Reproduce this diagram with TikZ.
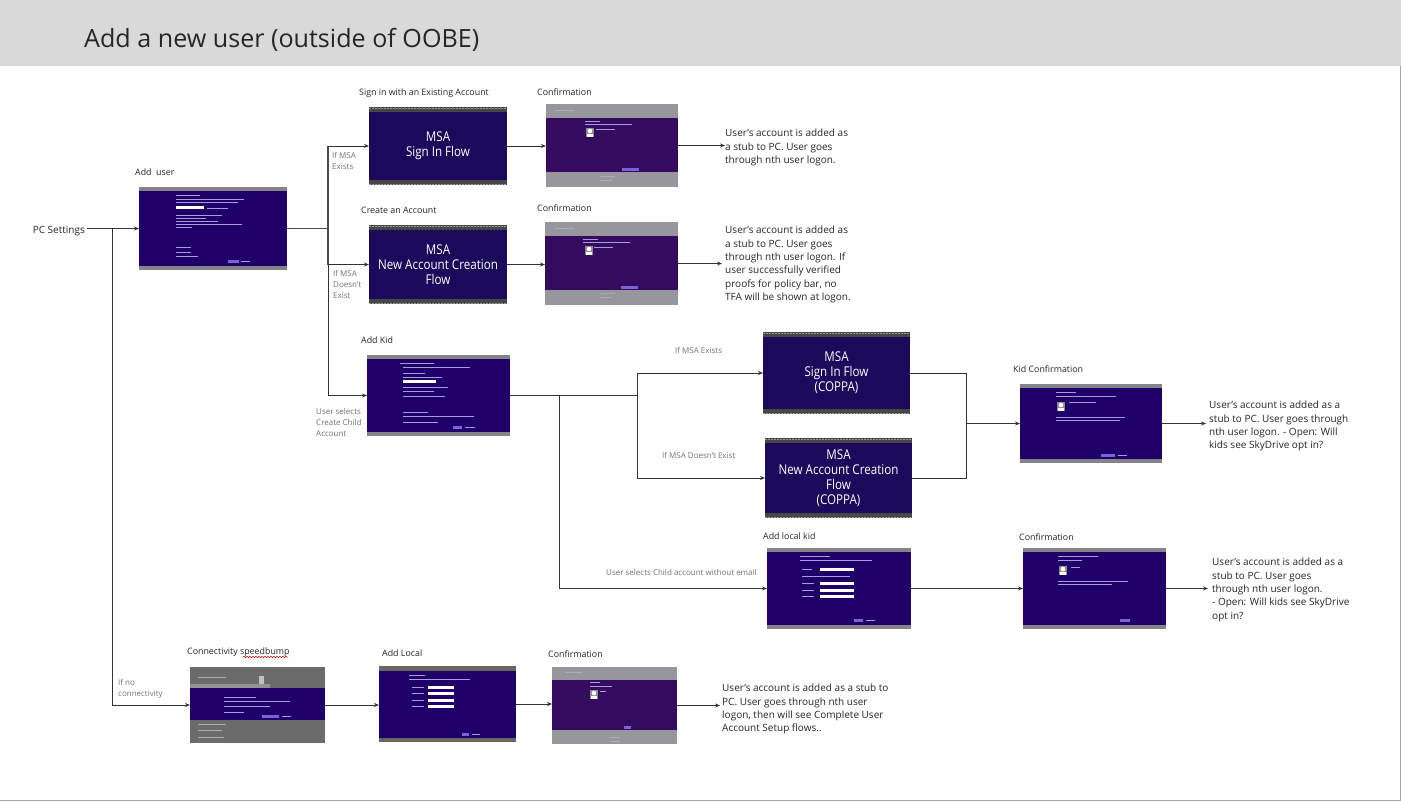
\documentclass[tikz,border=0pt]{standalone}
\usepackage{fontspec}
\setmainfont{Open Sans}
\newfontfamily\msafont{Open Sans}[FakeStretch=0.86]
\usetikzlibrary{arrows.meta,decorations.pathmorphing}
\definecolor{navy}{HTML}{1F0068}
\definecolor{msanavy}{HTML}{1B0A5C}
\definecolor{plum}{HTML}{340B5E}
\definecolor{barg}{HTML}{85838A}
\definecolor{lav}{HTML}{A99BE0}
\definecolor{btn}{HTML}{7A62D8}
\newcommand\mkbox[7]{%
  \pgfmathsetmacro\bw{#4-#2}\pgfmathsetmacro\bh{#5-#3}%
  \pgfmathsetmacro\bx{(#2+#4)/2}\pgfmathsetmacro\by{(#3+#5)/2}%
  \node[#6,minimum width=\bw pt,minimum height=\bh pt] (#1) at (\bx,\by) {#7};}
\newcommand\tl[3]{\draw[lav,line width=.45pt] (#1,#3) -- (#2,#3);}
\newcommand\tg[3]{\draw[black!32,line width=.6pt] (#1,#3) -- (#2,#3);}
\newcommand\wf[3]{\fill[white] (#1,#3-1.5) rectangle (#2,#3+1.5);}
\newcommand\bt[3]{\fill[btn] (#1,#3-1.5) rectangle (#2,#3+1.5);}
\newcommand\av[2]{\fill[black!45] (#1,#2) rectangle (#1+8,#2+9);\fill[white] (#1+4,#2+3) circle (2.3pt);\fill[white] (#1+.8,#2+9) rectangle (#1+7.2,#2+5.6);}
\tikzset{
  boxbase/.style={inner sep=0pt,outer sep=0pt,draw=none},
  screen/.style={boxbase,fill=navy,
    path picture={\fill[barg] (path picture bounding box.north west) rectangle ([yshift=-4pt]path picture bounding box.north east);
                  \fill[barg] (path picture bounding box.south west) rectangle ([yshift=4pt]path picture bounding box.south east);}},
  grayscreen/.style={boxbase,fill=barg!85!white},
  darkscreen/.style={boxbase,fill=black!58},
  msa/.style={boxbase,fill=msanavy,text=white,align=center,font=\msafont\fontsize{13.5}{15}\selectfont,
    path picture={\fill[black!72] (path picture bounding box.north west) rectangle ([yshift=-5pt]path picture bounding box.north east);
                  \fill[black!72] (path picture bounding box.south west) rectangle ([yshift=5pt]path picture bounding box.south east);
                  \draw[black!40,line width=1pt,dash pattern=on 1.5pt off 1.5pt] ([yshift=-1pt]path picture bounding box.north west) -- ([yshift=-1pt]path picture bounding box.north east);
                  \draw[black!40,line width=1pt,dash pattern=on 1.5pt off 1.5pt] ([yshift=1pt]path picture bounding box.south west) -- ([yshift=1pt]path picture bounding box.south east);}},
  captext/.style={inner sep=0pt,anchor=west,yshift=-1pt,font=\fontsize{8.85}{11}\selectfont,text=black!85},
  notetext/.style={inner sep=0pt,anchor=north west,align=left,font=\fontsize{8}{11}\selectfont,text=black!55},
  restext/.style={inner sep=0pt,anchor=north west,align=left,yshift=-2pt,font=\fontsize{10}{13.3}\selectfont,text=black!85},
  linkline/.style={draw=black!80,line width=.8pt},
  arrline/.style={linkline,-{Stealth[length=5pt,width=4pt]}},
  trunkline/.style={draw=black!70,line width=1.3pt},
}
\begin{document}
\begin{tikzpicture}[x=1pt,y=-1pt]
\useasboundingbox (0,0) rectangle (1401,801);
\fill[white] (0,0) rectangle (1401,801);
\fill[black!15] (0,0) rectangle (1401,66);
\draw[black!35,line width=.8pt] (1400.5,66) -- (1400.5,800.5) -- (0,800.5);
\node[inner sep=0pt,anchor=west,font=\fontsize{25.1}{28}\selectfont,text=black!85] (title) at (84,40) {Add a new user (outside of OOBE)};

% boxes
\mkbox{au}{139}{187}{287}{270}{screen}{}
\mkbox{ms}{369}{107}{507}{185}{msa}{\raisebox{-2pt}{MSA}\\\raisebox{-2pt}{Sign In Flow}}
\mkbox{cf}{546}{104}{678}{187}{grayscreen}{}
\mkbox{mn}{369}{225}{507}{304}{msa}{MSA\\New Account Creation\\Flow}
\mkbox{cg}{545}{222}{678}{305}{grayscreen}{}
\mkbox{ak}{367}{355}{510}{436}{screen}{}
\mkbox{ca}{763}{332}{910}{414}{msa}{\raisebox{-1pt}{MSA}\\\raisebox{-1pt}{Sign In Flow}\\\raisebox{-1pt}{(COPPA)}}
\mkbox{cb}{765}{438}{912}{518}{msa}{\raisebox{-1.5pt}{MSA}\\\raisebox{-1.5pt}{New Account Creation}\\\raisebox{-1.5pt}{Flow}\\\raisebox{-1.5pt}{(COPPA)}}
\mkbox{kc}{1020}{384}{1162}{463}{screen}{}
\mkbox{lk}{767}{548}{911}{629}{screen}{}
\mkbox{lc}{1023}{548}{1166}{629}{screen}{}
\mkbox{sb}{190}{667}{325}{743}{darkscreen}{}
\mkbox{al}{379}{666}{516}{742}{screen}{}
\mkbox{ch}{552}{667}{677}{744}{grayscreen}{}

% screenshot details
\tl{176}{200}{195}\tl{176}{244}{199}\tl{176}{238}{202}\wf{176}{204}{207}\tl{207}{228}{208}
\tl{176}{222}{215}\tl{176}{206}{218}\tl{176}{218}{221}\tl{176}{242}{224}\tl{176}{192}{227}
\tl{176}{191}{247}\tl{176}{191}{252}\tl{176}{198}{256}\bt{228}{239}{261}\tl{241}{250}{261}

\fill[plum] (546,118) rectangle (678,172);
\tl{585}{600}{121}\tl{585}{632}{124}\av{586}{128}\tl{596}{615}{129}\bt{622}{639}{169}\tg{600}{615}{176}\tg{600}{612}{180}\tg{555}{574}{110}
\fill[plum] (545,236) rectangle (678,290);
\tl{583}{598}{239}\tl{583}{630}{242}\av{585}{246}\tl{594}{613}{247}\bt{621}{638}{287}\tg{600}{615}{293}\tg{600}{612}{297}\tg{555}{574}{228}

\tl{400}{434}{363}\tl{403}{470}{367}\tl{403}{425}{373}\tl{403}{442}{377}\wf{403}{436}{381}\tl{403}{448}{387}\tl{403}{434}{391}\tl{403}{445}{396}
\tl{403}{428}{412}\tl{403}{474}{416}\tl{403}{438}{422}\bt{453}{462}{427}\tl{465}{475}{427}

\tl{1056}{1076}{392}\tl{1056}{1116}{396}\av{1057}{402}\tl{1069}{1096}{402}\tl{1056}{1125}{417}\tl{1056}{1120}{420}\bt{1101}{1115}{455}\tl{1118}{1127}{455}

\tl{800}{830}{556}\tl{800}{872}{560}\wf{820}{854}{569}\tl{802}{812}{569}\tl{802}{850}{576}\wf{820}{854}{583}\wf{820}{854}{590}\wf{820}{854}{596}\tl{802}{814}{583}\tl{802}{814}{590}\tl{802}{814}{596}\bt{854}{863}{620}\tl{866}{875}{620}

\tl{1058}{1098}{556}\tl{1058}{1082}{560}\av{1059}{566}\tl{1071}{1080}{567}\tl{1058}{1128}{581}\tl{1058}{1112}{584}\bt{1120}{1130}{620}

\fill[navy] (190,688) rectangle (325,720);
\fill[black!42] (190,684) rectangle (270,688);
\tl{224}{256}{697}\tl{224}{290}{701}\tl{224}{270}{706}\tl{224}{244}{712}\bt{262}{279}{716}\tl{282}{291}{716}
\tg{198}{226}{677}\tg{198}{226}{724}\tg{198}{222}{730}\tg{198}{224}{737}
\fill[black!25] (259,676) rectangle (264,684);

\fill[black!60] (379,666) rectangle (516,671);
\fill[black!60] (379,738) rectangle (516,742);
\tl{409}{425}{675}\tl{409}{470}{679}\wf{428}{454}{687}\wf{428}{454}{693}\wf{428}{454}{700}\wf{428}{454}{706}\tl{412}{424}{687}\tl{412}{424}{693}\tl{412}{424}{700}\tl{412}{424}{706}\bt{462}{469}{734}\tl{472}{480}{734}

\fill[plum] (552,680) rectangle (677,730);
\tl{590}{600}{682}\tl{590}{612}{686}\av{590}{690}\tl{600}{606}{691}\bt{624}{631}{727}\tg{610}{620}{737}\tg{610}{620}{741}\tg{565}{582}{672}

% captions
\node[captext] (t1) at (359,92) {Sign in with an Existing Account};
\node[captext] (t2) at (537,91) {Confirmation};
\node[captext] (t3) at (135,171) {Add\ \ user};
\node[captext] (t4) at (361,209) {Create an Account};
\node[captext] (t5) at (537,207) {Confirmation};
\node[captext] (t6) at (361,339) {Add Kid};
\node[captext] (t7) at (1013,368) {Kid Confirmation};
\node[captext] (t8) at (763,535) {Add local kid};
\node[captext] (t9) at (1019,536) {Confirmation};
\node[captext] (t10) at (187,651) {Connectivity speedbump};
\node[captext] (t11) at (382,652) {Add Local};
\node[captext] (t12) at (548,653) {Confirmation};
\coordinate (wa) at (243,657);
\coordinate (wb) at (288,657);
\draw[red!75!black,line width=.5pt,decorate,decoration={snake,amplitude=.7pt,segment length=3pt}] (wa) -- (wb);
\node[inner sep=0pt,anchor=east,font=\fontsize{10}{12}\selectfont,text=black!85] (pc) at (85,231) {PC Settings};

% small notes
\node[notetext] (n1) at (332,152.5) {If MSA\\Exists};
\node[notetext] (n2) at (333,270.5) {If MSA\\Doesn't\\Exist};
\node[notetext] (n3) at (316,408) {User selects\\Create Child\\Account};
\node[notetext] (n4) at (675,347.5) {If MSA Exists};
\node[notetext] (n5) at (662,452) {If MSA Doesn't Exist};
\node[notetext] (n6) at (606,569) {User selects Child account without email};
\node[notetext] (n7) at (118,679) {If no\\connectivity};

% results
\node[restext] (r1) at (725,127) {User's account is added as\\a stub to PC. User goes\\through nth user logon.};
\node[restext] (r2) at (725,224) {User's account is added as\\a stub to PC. User goes\\through nth user logon. If\\user successfully verified\\proofs for policy bar, no\\TFA will be shown at logon.};
\node[restext] (r3) at (1209,399) {User's account is added as a\\stub to PC. User goes through\\nth user logon. - Open: Will\\kids see SkyDrive opt in?};
\node[restext] (r4) at (1212,556) {User's account is added as a\\stub to PC. User goes\\through nth user logon.\\- Open: Will kids see SkyDrive\\opt in?};
\node[restext] (r5) at (722,682) {User's account is added as a stub to\\PC. User goes through nth user\\logon, then will see Complete User\\Account Setup flows..};

% junctions
\coordinate (jpc) at (112,228.5);
\coordinate (jno) at (112,705);
\coordinate (jau) at (328,228.5);
\coordinate (jms) at (328,146);
\coordinate (jmn) at (328,264.5);
\coordinate (jak) at (328,395.5);
\coordinate (jk) at (637,395.5);
\coordinate (jl) at (559,395.5);
\coordinate (jca) at (637,373);
\coordinate (jcb) at (637,478);
\coordinate (jll) at (559,588.5);
\coordinate (ja) at (966,373);
\coordinate (jb) at (966,478);
\coordinate (jc) at (966,423.5);

% connectors
\draw[arrline] ([xshift=2pt]pc.east |- au.west) -- (au.west);
\draw[linkline] (jpc) -- (jno);
\draw[arrline] (jno) -- (sb.west);
\draw[trunkline] (au.east) -- (jau);
\draw[trunkline] (jms) -- (jmn);
\draw[linkline] (jmn) -- (jak);
\draw[arrline] (jms) -- (ms.west);
\draw[arrline] (jmn) -- (mn.west);
\draw[arrline] (jak) -- (ak.west);
\draw[arrline] (ms.east) -- (ms.east -| cf.west);
\draw[arrline] (mn.east) -- (mn.east -| cg.west);
\draw[arrline] (cf.east) -- (r1.west |- cf.east);
\draw[arrline] (cg.east) -- ([xshift=-3pt]r2.west |- cg.east);
\draw[linkline] (ak.east) -- (jk);
\draw[linkline] (jcb) -- (jca);
\draw[arrline] (jca) -- (ca.west);
\draw[arrline] (jcb) -- (cb.west);
\draw[linkline] (jl) -- (jll);
\draw[arrline] (jll) -- (lk.west);
\draw[linkline] (ca.east) -- (ja) -- (jb) -- (cb.east);
\draw[arrline] (jc) -- (kc.west);
\draw[arrline] (kc.east) -- ([xshift=-3pt]r3.west |- kc.east);
\draw[arrline] (lk.east) -- (lc.west);
\draw[arrline] (lc.east) -- ([xshift=-4pt]r4.west |- lc.east);
\draw[arrline] (sb.east) -- (sb.east -| al.west);
\draw[arrline] (al.east) -- (al.east -| ch.west);
\draw[arrline] (ch.east) -- ([xshift=-2pt]r5.west |- ch.east);
\end{tikzpicture}
\end{document}
